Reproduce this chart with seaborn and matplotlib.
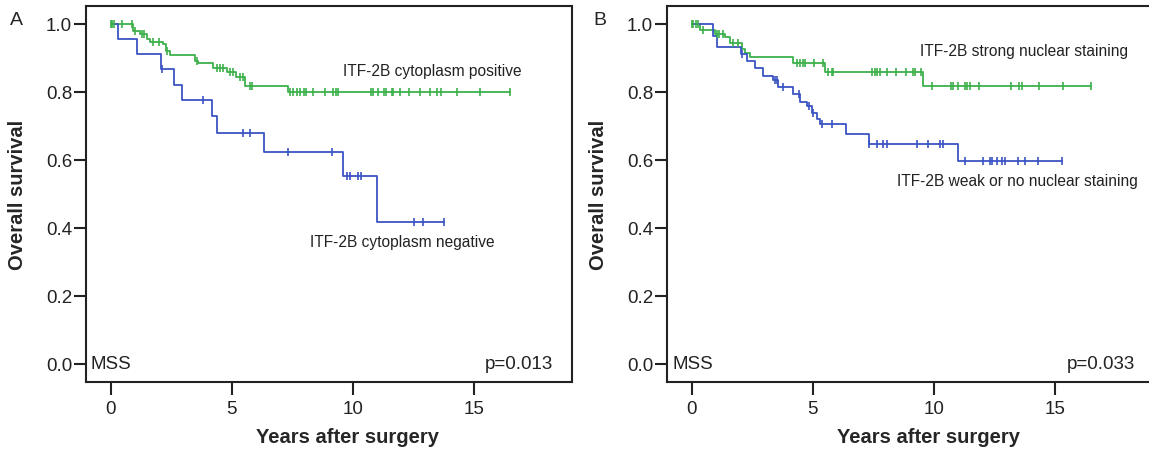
import numpy as np
import pandas as pd
import seaborn as sns
import matplotlib.pyplot as plt

# Panel A - ITF-2B cytoplasm (event times in years, survival after each step)
a_pos_times = [0.91, 1.21, 1.48, 1.62, 2.14, 2.28, 2.45, 3.48, 3.62, 4.23, 4.78, 5.17, 5.55, 7.33]
a_pos_surv = [0.980, 0.971, 0.956, 0.946, 0.941, 0.921, 0.909, 0.892, 0.885, 0.870, 0.858, 0.843, 0.819, 0.801]
a_pos_cens = [0.0, 0.07, 0.15, 0.45, 0.87, 1.0, 1.28, 1.37, 1.76, 2.0, 2.33, 3.55, 4.37, 4.51, 4.65,
              4.92, 5.06, 5.33, 5.47, 5.75, 5.81, 7.40, 7.53, 7.67, 7.81, 7.97, 8.06, 8.36, 8.84,
              9.18, 9.28, 9.39, 10.72, 10.81, 11.04, 11.27, 11.35, 11.59, 11.66, 11.93, 12.32,
              12.76, 13.17, 13.47, 13.61, 14.27, 15.23, 16.47]
a_neg_times = [0.31, 1.07, 2.07, 2.63, 2.96, 4.19, 4.40, 6.34, 9.60, 10.97]
a_neg_surv = [0.956, 0.912, 0.868, 0.820, 0.777, 0.728, 0.679, 0.624, 0.554, 0.417]
a_neg_cens = [2.1, 3.82, 5.47, 5.75, 7.30, 9.14, 9.74, 9.87, 10.21, 10.31, 12.52, 12.90, 13.76]

# Panel B - ITF-2B nuclear staining
b_str_times = [0.34, 0.96, 1.37, 1.58, 2.06, 2.20, 2.40, 4.17, 5.50, 9.55]
b_str_surv = [0.983, 0.972, 0.961, 0.943, 0.926, 0.915, 0.902, 0.885, 0.860, 0.817]
b_str_cens = [0.0, 0.07, 0.18, 0.27, 0.45, 1.03, 1.14, 1.31, 1.72, 1.92, 4.33, 4.47, 4.58, 4.67,
              5.05, 5.43, 5.64, 5.78, 5.84, 7.45, 7.56, 7.66, 7.77, 8.04, 8.43, 8.84, 9.12, 9.21,
              9.45, 9.90, 10.68, 10.77, 11.00, 11.27, 11.37, 11.48, 11.87, 13.17, 13.51, 13.61,
              14.34, 15.30, 16.46]
b_weak_times = [0.89, 1.06, 2.05, 2.29, 2.61, 2.95, 3.37, 3.57, 4.19, 4.47, 4.74, 4.95, 5.16,
                5.29, 6.35, 7.33, 10.97]
b_weak_surv = [0.966, 0.933, 0.912, 0.892, 0.870, 0.848, 0.835, 0.816, 0.794, 0.771, 0.758,
               0.738, 0.721, 0.706, 0.676, 0.647, 0.596]
b_weak_cens = [2.06, 3.44, 3.51, 3.78, 4.44, 4.85, 4.99, 5.36, 5.78, 7.33, 7.63, 7.90, 8.07,
               9.31, 9.76, 10.24, 10.35, 11.27, 12.00, 12.31, 12.38, 12.58, 12.79, 12.93,
               13.47, 13.75, 14.30, 15.26]

GREEN = '#3db04b'
BLUE = '#3b54c4'
INK = '#222222'

sns.set_theme(style='white')
plt.rcParams['font.family'] = ['Liberation Sans', 'DejaVu Sans']


def km_frame(times, surv, cens):
    # step curve from event times, runs out to the last censored time
    end = max(max(cens), max(times))
    x = [0.0] + list(times) + [end]
    y = [1.0] + list(surv) + [surv[-1]]
    curve = pd.DataFrame({'t': x, 's': y})
    idx = np.searchsorted(np.array(times), np.array(cens), side='right')
    levels = np.array([1.0] + list(surv))
    marks = pd.DataFrame({'t': cens, 's': levels[idx]})
    return curve, marks


def draw_group(ax, times, surv, cens, color):
    curve, marks = km_frame(times, surv, cens)
    sns.lineplot(data=curve, x='t', y='s', ax=ax, color=color, linewidth=1.3,
                 drawstyle='steps-post', estimator=None, sort=False)
    sns.scatterplot(data=marks, x='t', y='s', ax=ax, color=color, marker='|',
                    s=30, linewidth=1.2, zorder=3)


fig = plt.figure(figsize=(11.49, 4.56), dpi=100)
ax_a = fig.add_axes([0.0748, 0.1601, 0.4230, 0.8246])
ax_b = fig.add_axes([0.5805, 0.1601, 0.4230, 0.8246])

draw_group(ax_a, a_pos_times, a_pos_surv, a_pos_cens, GREEN)
draw_group(ax_a, a_neg_times, a_neg_surv, a_neg_cens, BLUE)
draw_group(ax_b, b_str_times, b_str_surv, b_str_cens, GREEN)
draw_group(ax_b, b_weak_times, b_weak_surv, b_weak_cens, BLUE)

ax_a.text(9.58, 0.862, 'ITF-2B cytoplasm positive', fontsize=11.2, va='center', color=INK)
ax_a.text(8.22, 0.359, 'ITF-2B cytoplasm negative', fontsize=11.2, va='center', color=INK)
ax_a.text(-0.85, 0.0, 'MSS', fontsize=13.5, va='center', color=INK)
ax_a.text(18.25, 0.0, 'p=0.013', fontsize=13.5, va='center', ha='right', color=INK)

ax_b.text(9.42, 0.921, 'ITF-2B strong nuclear staining', fontsize=11.2, va='center', color=INK)
ax_b.text(8.46, 0.539, 'ITF-2B weak or no nuclear staining', fontsize=11.2, va='center', color=INK)
ax_b.text(-0.81, 0.0, 'MSS', fontsize=13.5, va='center', color=INK)
ax_b.text(18.29, 0.0, 'p=0.033', fontsize=13.5, va='center', ha='right', color=INK)

for ax in (ax_a, ax_b):
    ax.set_xlim(-1.02, 19.03)
    ax.set_ylim(-0.053, 1.053)
    ax.set_xticks([0, 5, 10, 15])
    ax.set_yticks([0.0, 0.2, 0.4, 0.6, 0.8, 1.0])
    ax.set_yticklabels(['0.0', '0.2', '0.4', '0.6', '0.8', '1.0'])
    ax.tick_params(axis='both', direction='out', length=9, width=1.5, labelsize=13.5,
                   colors=INK, bottom=True, left=True)
    ax.tick_params(axis='y', pad=1)
    ax.tick_params(axis='x', pad=4)
    for sp in ax.spines.values():
        sp.set_visible(True)
        sp.set_color(INK)
        sp.set_linewidth(1.5)
    ax.set_xlabel('Years after surgery', fontsize=14.5, fontweight='bold')
    ax.set_ylabel('Overall survival', fontsize=14.5, fontweight='bold')
    ax.xaxis.set_label_coords(0.539, -0.12)
    ax.yaxis.set_label_coords(-0.121, 0.5)
    ax.grid(False)

fig.text(0.009, 0.955, 'A', fontsize=14, va='center')
fig.text(0.516, 0.955, 'B', fontsize=14, va='center')

fig.savefig('out.png', dpi=100)
